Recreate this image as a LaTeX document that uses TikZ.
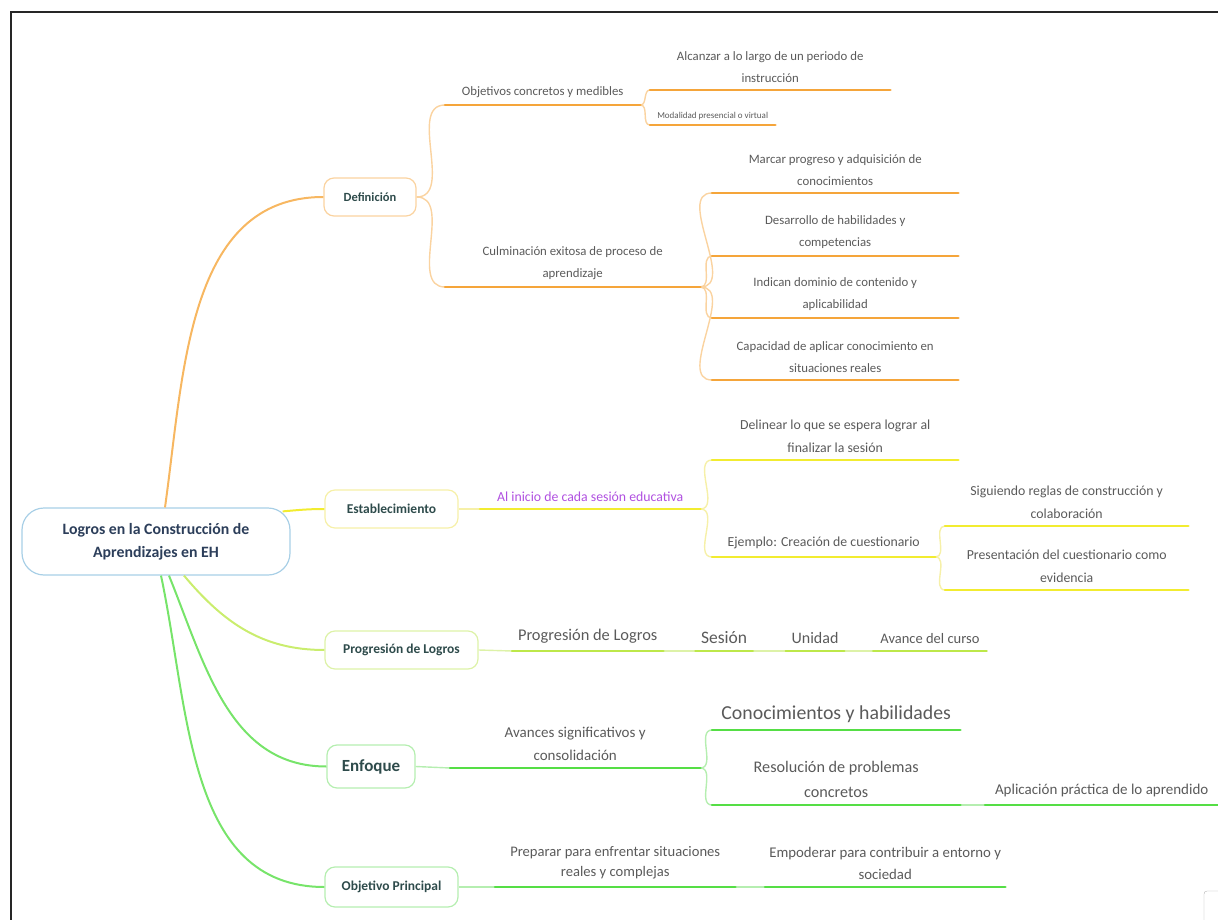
\documentclass[tikz,border=0pt]{standalone}
\usepackage{fontspec}
\setmainfont{Carlito}
\usepackage{tikz}
\usetikzlibrary{positioning}
\definecolor{txtgray}{HTML}{5A5A5A}
\definecolor{hubtxt}{HTML}{2E4B4B}
\definecolor{roottxt}{HTML}{2C3E5A}
\definecolor{rootline}{HTML}{A8CFE6}
\definecolor{orng}{HTML}{F5A53A}
\definecolor{orngl}{HTML}{FAD3A0}
\definecolor{yllw}{HTML}{F2EC30}
\definecolor{yllwl}{HTML}{F6F0A8}
\definecolor{lime}{HTML}{BDE84A}
\definecolor{limel}{HTML}{DDF2A8}
\definecolor{grn}{HTML}{55DE45}
\definecolor{grnl}{HTML}{B5EEB0}
\definecolor{purp}{HTML}{B050E0}
\newcommand{\fsz}[2]{\fontsize{#1}{#2}\selectfont}
\tikzset{
    root/.style={rectangle, rounded corners=22pt, draw=rootline, line width=1.2pt, minimum width=268pt, minimum height=67pt, align=center, text=roottxt, font=\fsz{15.8}{23}\bfseries},
    hub/.style={rectangle, rounded corners=10pt, line width=1.2pt, minimum height=38pt, inner xsep=0pt, text=hubtxt, font=\fsz{13.5}{16}\bfseries},
    topic/.style={anchor=south west, align=center, text=txtgray, inner xsep=0pt, inner ysep=7.5pt, font=\fsz{12.8}{21.5}},
    uline/.style={line width=2.6pt, line cap=round},
    link/.style={line width=1.4pt},
    trunk/.style={line width=2pt}
}
\begin{document}
\begin{tikzpicture}[x=1pt, y=1pt]
    \useasboundingbox (0,0) rectangle (1218,-920);
    % Frame
    \draw [line width=2.6pt, black!85] (11,-920) -- (11,-12) -- (1218,-12);
    \draw [gray!60, rounded corners=3pt] (1204,-930) rectangle (1226,-891);
    % Root
    \node (root) [root] at (156,-541.5) {Logros en la Construcción de\\Aprendizajes en EH};
    % Main branches
    \node (def) [hub, draw=orngl, minimum width=92pt, font=\fsz{12.5}{15}\bfseries] at (370,-197) {Definición};
    \node (est) [hub, draw=yllwl, minimum width=133pt] at (391.5,-509) {Establecimiento};
    \node (prog) [hub, draw=limel, minimum width=153pt] at (401.5,-650) {Progresión de Logros};
    \node (enf) [hub, draw=grnl, minimum width=88pt, minimum height=43pt, font=\fsz{17}{19}\bfseries] at (371,-766.5) {Enfoque};
    \node (objp) [hub, draw=grnl, minimum width=133pt, minimum height=40pt] at (391.5,-887) {Objetivo Principal};
    % Definicion
    \node (obj) [topic, minimum width=195pt] at (445,-105) {Objetivos concretos y medibles};
    \node (alc) [topic, minimum width=240pt] at (650,-90) {Alcanzar a lo largo de un periodo de\\instrucción};
    \node (mod) [topic, minimum width=125pt, font=\fsz{9}{11}, inner ysep=5pt] at (650,-125) {Modalidad presencial o virtual};
    \node (cul) [topic, minimum width=255pt] at (445,-287) {Culminación exitosa de proceso de\\aprendizaje};
    \node (mar) [topic, minimum width=246pt] at (712,-193) {Marcar progreso y adquisición de\\conocimientos};
    \node (des) [topic, minimum width=246pt] at (712,-256) {Desarrollo de habilidades y\\competencias};
    \node (ind) [topic, minimum width=246pt] at (712,-318) {Indican dominio de contenido y\\aplicabilidad};
    \node (cap) [topic, minimum width=246pt] at (712,-380) {Capacidad de aplicar conocimiento en\\situaciones reales};
    % Establecimiento
    \node (ini) [topic, minimum width=220pt, text=purp, font=\fsz{13.8}{22}] at (480,-509) {Al inicio de cada sesión educativa};
    \node (del) [topic, minimum width=246pt, font=\fsz{13.8}{22.5}] at (712,-460) {Delinear lo que se espera lograr al\\finalizar la sesión};
    \node (eje) [topic, minimum width=223pt, font=\fsz{13.8}{22}] at (712,-557) {Ejemplo: Creación de cuestionario};
    \node (sig) [topic, minimum width=243pt, font=\fsz{13.8}{22.5}] at (945,-526) {Siguiendo reglas de construcción y\\colaboración};
    \node (pres) [topic, minimum width=243pt, font=\fsz{13.8}{22.5}] at (945,-590) {Presentación del cuestionario como\\evidencia};
    % Progresion
    \node (pg1) [topic, minimum width=151pt, font=\fsz{16.4}{19}] at (512,-651) {Progresión de Logros};
    \node (pg2) [topic, minimum width=57pt, font=\fsz{17.5}{19}, right=32pt of pg1.south east, anchor=south west] {Sesión};
    \node (pg3) [topic, minimum width=58pt, font=\fsz{16}{19}, right=33pt of pg2.south east, anchor=south west] {Unidad};
    \node (pg4) [topic, minimum width=113pt, font=\fsz{14.5}{19}, right=29pt of pg3.south east, anchor=south west] {Avance del curso};
    % Enfoque
    \node (ava) [topic, minimum width=250pt, font=\fsz{15}{23}] at (450,-768) {Avances significativos y\\consolidación};
    \node (con) [topic, minimum width=248pt, font=\fsz{19.8}{23}] at (712,-730) {Conocimientos y habilidades};
    \node (res) [topic, minimum width=248pt, font=\fsz{16.2}{25}] at (712,-805) {Resolución de problemas\\concretos};
    \node (apl) [topic, minimum width=233pt, font=\fsz{15}{18}] at (985,-805) {Aplicación práctica de lo aprendido};
    % Objetivo principal
    \node (prep) [topic, minimum width=240pt, font=\fsz{14.6}{20.5}] at (495,-887) {Preparar para enfrentar situaciones\\reales y complejas};
    \node (emp) [topic, minimum width=240pt, font=\fsz{14.8}{22}] at (765,-887) {Empoderar para contribuir a entorno y\\sociedad};
    % Root connectors
    \draw [trunk, orng!80] ([xshift=9pt]root.north) to[out=82, in=180] (def.west);
    \draw [trunk, yllw] ([xshift=-8pt, yshift=-4pt]root.north east) to[out=5, in=180] (est.west);
    \draw [trunk, lime!80] ([xshift=28pt]root.south) to[out=-50, in=180] (prog.west);
    \draw [trunk, grn!80] ([xshift=13pt]root.south) to[out=-68, in=180] (enf.west);
    \draw [trunk, grn!80] ([xshift=5pt]root.south) to[out=-78, in=180] (objp.west);
    % Branch connectors
    \draw [link, orngl] (def.east) to[out=0, in=180] (obj.south west);
    \draw [link, orngl] (def.east) to[out=0, in=180] (cul.south west);
    \draw [link, orngl] (obj.south east) to[out=0, in=180] (alc.south west);
    \draw [link, orngl] (obj.south east) to[out=0, in=180] (mod.south west);
    \draw [link, orngl] (cul.south east) to[out=0, in=180] (mar.south west);
    \draw [link, orngl] (cul.south east) to[out=0, in=180] (des.south west);
    \draw [link, orngl] (cul.south east) to[out=0, in=180] (ind.south west);
    \draw [link, orngl] (cul.south east) to[out=0, in=180] (cap.south west);
    \draw [link, yllwl] (est.east) -- (ini.south west);
    \draw [link, yllwl] (ini.south east) to[out=0, in=180] (del.south west);
    \draw [link, yllwl] (ini.south east) to[out=0, in=180] (eje.south west);
    \draw [link, yllwl] (eje.south east) to[out=0, in=180] (sig.south west);
    \draw [link, yllwl] (eje.south east) to[out=0, in=180] (pres.south west);
    \draw [link, limel] (prog.east) -- (pg1.south west);
    \draw [link, limel] (pg1.south east) -- (pg2.south west);
    \draw [link, limel] (pg2.south east) -- (pg3.south west);
    \draw [link, limel] (pg3.south east) -- (pg4.south west);
    \draw [link, grnl] (enf.east) -- (ava.south west);
    \draw [link, grnl] (ava.south east) to[out=0, in=180] (con.south west);
    \draw [link, grnl] (ava.south east) to[out=0, in=180] (res.south west);
    \draw [link, grnl] (res.south east) -- (apl.south west);
    \draw [link, grnl] (objp.east) -- (prep.south west);
    \draw [link, grnl] (prep.south east) -- (emp.south west);
    % Underlines
    \draw [uline, orng] (obj.south west) -- (obj.south east);
    \draw [uline, orng] (alc.south west) -- (alc.south east);
    \draw [uline, orng] (mod.south west) -- (mod.south east);
    \draw [uline, orng] (cul.south west) -- (cul.south east);
    \draw [uline, orng] (mar.south west) -- (mar.south east);
    \draw [uline, orng] (des.south west) -- (des.south east);
    \draw [uline, orng] (ind.south west) -- (ind.south east);
    \draw [uline, orng] (cap.south west) -- (cap.south east);
    \draw [uline, yllw] (ini.south west) -- (ini.south east);
    \draw [uline, yllw] (del.south west) -- (del.south east);
    \draw [uline, yllw] (eje.south west) -- (eje.south east);
    \draw [uline, yllw] (sig.south west) -- (sig.south east);
    \draw [uline, yllw] (pres.south west) -- (pres.south east);
    \draw [uline, lime] (pg1.south west) -- (pg1.south east);
    \draw [uline, lime] (pg2.south west) -- (pg2.south east);
    \draw [uline, lime] (pg3.south west) -- (pg3.south east);
    \draw [uline, lime] (pg4.south west) -- (pg4.south east);
    \draw [uline, grn] (ava.south west) -- (ava.south east);
    \draw [uline, grn] (con.south west) -- (con.south east);
    \draw [uline, grn] (res.south west) -- (res.south east);
    \draw [uline, grn] (apl.south west) -- (apl.south east);
    \draw [uline, grn] (prep.south west) -- (prep.south east);
    \draw [uline, grn] (emp.south west) -- (emp.south east);
\end{tikzpicture}
\end{document}
